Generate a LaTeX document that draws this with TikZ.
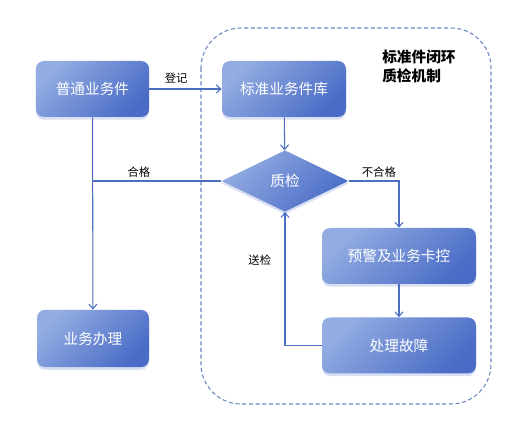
\documentclass[tikz,border=0pt]{standalone}
\usepackage{fontspec}
\setmainfont{Noto Sans CJK SC}
\usetikzlibrary{shapes.geometric,arrows.meta,shadows}
\definecolor{boxlight}{HTML}{93ACE2}
\definecolor{boxdark}{HTML}{4A6CC6}
\definecolor{flowline}{HTML}{4C70C0}
\definecolor{loopline}{HTML}{6A86C2}
\begin{document}
\begin{tikzpicture}[x=0.75pt, y=-0.75pt,
  stepbox/.style={shape=rectangle, rounded corners=6pt, draw=none,
    top color=boxlight, bottom color=boxdark, shading angle=45,
    drop shadow={fill=boxdark!60, opacity=0.35, shadow xshift=0pt, shadow yshift=-2pt},
    text=white, font=\fontsize{11pt}{13pt}\selectfont,
    minimum height=42pt, inner sep=0pt},
  checkbox/.style={shape=diamond, draw=none,
    top color=boxlight, bottom color=boxdark, shading angle=45,
    drop shadow={fill=boxdark!60, opacity=0.35, shadow xshift=0pt, shadow yshift=-2pt},
    text=white, font=\fontsize{11pt}{13pt}\selectfont,
    minimum width=95pt, minimum height=46pt, inner sep=0pt},
  flow/.style={draw=flowline, line width=0.8pt, -{Straight Barb[length=3.5pt,width=6pt]}},
  tag/.style={font=\fontsize{8.5pt}{10pt}\selectfont, text=black, inner sep=1pt}]
\useasboundingbox (0,0) rectangle (519,435);
% closed loop frame
\draw[loopline, line width=0.8pt, dash pattern=on 3pt off 2pt, rounded corners=30pt] (201,28) rectangle (491,404);
\node[font=\bfseries\fontsize{11pt}{14pt}\selectfont, align=left, anchor=north west, inner sep=0pt] (T) at (382,50) {标准件闭环\\质检机制};
\node[stepbox, minimum width=85pt] (A) at (92.5,89) {普通业务件};
\node[stepbox, minimum width=93pt] (B) at (284,89) {标准业务件库};
\node[checkbox] (C) at (285,181) {质检};
\node[stepbox, minimum width=115.5pt] (D) at (399,256) {预警及业务卡控};
\node[stepbox, minimum width=115.5pt] (E) at (399,345.5) {处理故障};
\node[stepbox, minimum width=84pt, minimum height=43pt] (F) at (93,338.5) {业务办理};
\path[flow] (A) edge node[tag, pos=0.37, above=3pt] {登记} (B);
\path[flow] (B) edge (C);
\path[flow] (A) edge (F);
\draw[flowline, line width=0.8pt] (C.west) -- node[tag, pos=0.64, above=1pt] {合格} (A.south |- C.west);
\draw[flow] (C.east) -| node[tag, pos=0.3, above=1pt] {不合格} (D.north);
\path[flow] (D) edge (E);
\draw[flow] (E.west) -| node[tag, pos=0.82, left=9pt] {送检} (C.south);
\end{tikzpicture}
\end{document}
